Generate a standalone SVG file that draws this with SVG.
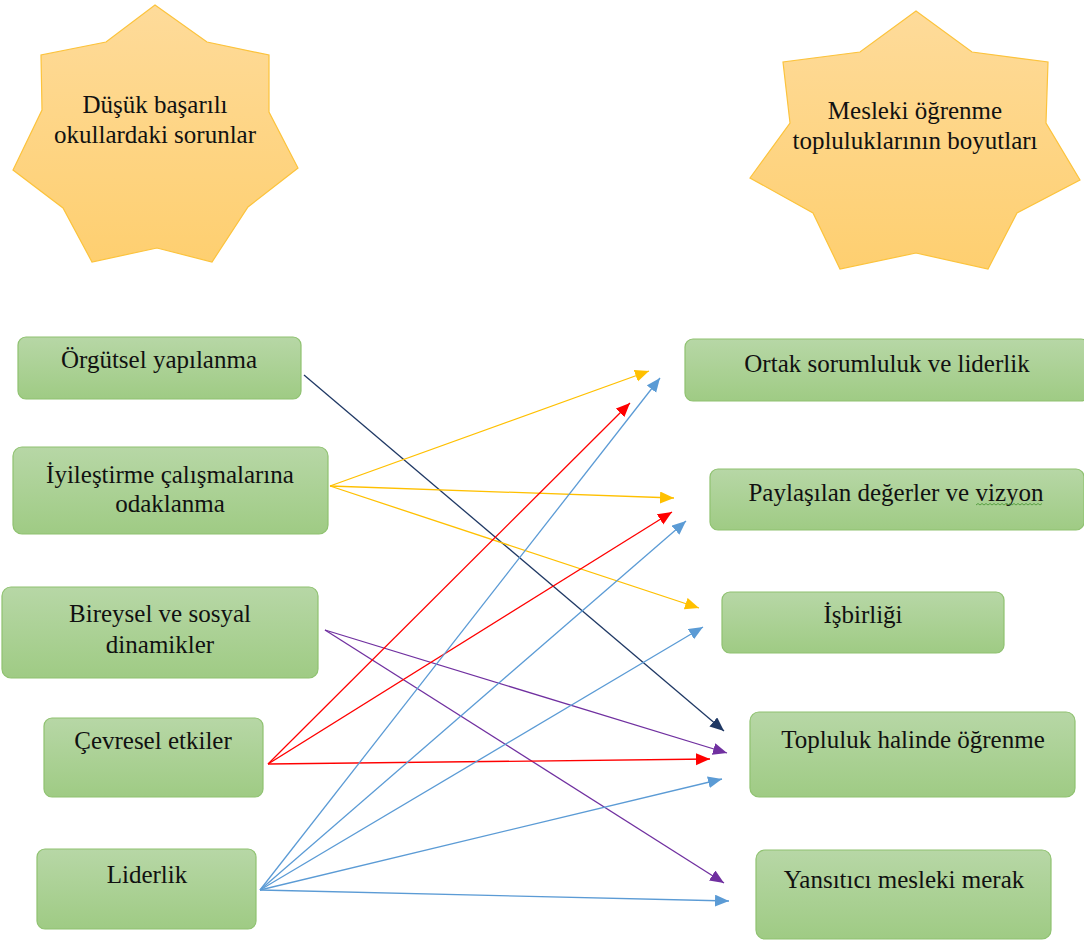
<svg xmlns="http://www.w3.org/2000/svg" width="1084" height="943" viewBox="0 0 1084 943" font-family="'Liberation Serif', 'Times New Roman', serif">
<defs>
<linearGradient id="gStar" x1="0" y1="0" x2="0" y2="1">
<stop offset="0" stop-color="#fedb9a"/>
<stop offset="1" stop-color="#fecf70"/>
</linearGradient>
<linearGradient id="gBox" x1="0" y1="0" x2="0" y2="1">
<stop offset="0" stop-color="#b7d7a6"/>
<stop offset="1" stop-color="#9fcb84"/>
</linearGradient>
<marker id="mNavy" markerUnits="userSpaceOnUse" markerWidth="15" markerHeight="13" refX="14" refY="6" orient="auto"><path d="M0,0 L14,6 L0,12 z" fill="#1f3864"/></marker>
<marker id="mYellow" markerUnits="userSpaceOnUse" markerWidth="15" markerHeight="13" refX="14" refY="6" orient="auto"><path d="M0,0 L14,6 L0,12 z" fill="#ffc000"/></marker>
<marker id="mPurple" markerUnits="userSpaceOnUse" markerWidth="15" markerHeight="13" refX="14" refY="6" orient="auto"><path d="M0,0 L14,6 L0,12 z" fill="#7030a0"/></marker>
<marker id="mRed" markerUnits="userSpaceOnUse" markerWidth="15" markerHeight="13" refX="14" refY="6" orient="auto"><path d="M0,0 L14,6 L0,12 z" fill="#ff0000"/></marker>
<marker id="mBlue" markerUnits="userSpaceOnUse" markerWidth="15" markerHeight="13" refX="14" refY="6" orient="auto"><path d="M0,0 L14,6 L0,12 z" fill="#5b9bd5"/></marker>
</defs>
<style>
.star{fill:url(#gStar);stroke:#fcc33c;stroke-width:1.2}
.box{fill:url(#gBox);stroke:#8fc270;stroke-width:1.2}
.t{font-size:25px;fill:#111;text-anchor:middle}
.c{fill:none;stroke-width:1.3}
.navy{stroke:#1f3864;marker-end:url(#mNavy)}
.yellow{stroke:#ffc000;marker-end:url(#mYellow)}
.purple{stroke:#7030a0;marker-end:url(#mPurple)}
.red{stroke:#ff0000;marker-end:url(#mRed)}
.blue{stroke:#5b9bd5;marker-end:url(#mBlue)}
</style>
<rect width="1084" height="943" fill="#ffffff"/>

<g id="star-left">
<polygon class="star" points="155,5 207,42 269,55 269,112 298,168 248,207 212,262 157,248 92,262 63,208 13,170 42,110 41,55 106,42"/>
<text class="t" font-family="Liberation Serif, serif" x="155" y="113">Düşük başarılı</text>
<text class="t" font-family="Liberation Serif, serif" x="155" y="143">okullardaki sorunlar</text>
</g>

<g id="star-right">
<polygon class="star" points="916,11 972,52 1048,62 1046,123 1080,180 1017,213 988,269 916,253 840,269 813,213 750,178 790,123 783,62 860,52"/>
<text class="t" font-family="Liberation Serif, serif" x="915" y="119">Mesleki öğrenme</text>
<text class="t" font-family="Liberation Serif, serif" x="915" y="149">topluluklarının boyutları</text>
</g>

<g id="node-orgutsel">
<rect class="box" x="18" y="337" width="283" height="62" rx="8"/>
<text class="t" font-family="Liberation Serif, serif" x="159" y="368">Örgütsel yapılanma</text>
</g>
<g id="node-iyilestirme">
<rect class="box" x="13" y="447" width="315" height="87" rx="9"/>
<text class="t" font-family="Liberation Serif, serif" x="170" y="483">İyileştirme çalışmalarına</text>
<text class="t" font-family="Liberation Serif, serif" x="170" y="512">odaklanma</text>
</g>
<g id="node-bireysel">
<rect class="box" x="2" y="587" width="316" height="91" rx="9"/>
<text class="t" font-family="Liberation Serif, serif" x="160" y="622">Bireysel ve sosyal</text>
<text class="t" font-family="Liberation Serif, serif" x="160" y="653">dinamikler</text>
</g>
<g id="node-cevresel">
<rect class="box" x="44" y="718" width="219" height="79" rx="8"/>
<text class="t" font-family="Liberation Serif, serif" x="153" y="749">Çevresel etkiler</text>
</g>
<g id="node-liderlik">
<rect class="box" x="37" y="849" width="219" height="80" rx="8"/>
<text class="t" font-family="Liberation Serif, serif" x="147" y="883">Liderlik</text>
</g>

<g id="node-ortak">
<rect class="box" x="685" y="339" width="404" height="62" rx="8"/>
<text class="t" font-family="Liberation Serif, serif" x="887" y="372">Ortak sorumluluk ve liderlik</text>
</g>
<g id="node-paylasilan">
<rect class="box" x="710" y="469" width="374" height="61" rx="8"/>
<text class="t" font-family="Liberation Serif, serif" x="896" y="501">Paylaşılan değerler ve vizyon</text>
<path d="M976,505 l2,-1.5 l2,1.5 l2,-1.5 l2,1.5 l2,-1.5 l2,1.5 l2,-1.5 l2,1.5 l2,-1.5 l2,1.5 l2,-1.5 l2,1.5 l2,-1.5 l2,1.5 l2,-1.5 l2,1.5 l2,-1.5 l2,1.5 l2,-1.5 l2,1.5 l2,-1.5 l2,1.5 l2,-1.5 l2,1.5 l2,-1.5 l2,1.5 l2,-1.5 l2,1.5 l2,-1.5 l2,1.5 l2,-1.5 l2,1.5 l2,-1.5" fill="none" stroke="#4f9a3a" stroke-width="0.9"/>
</g>
<g id="node-isbirligi">
<rect class="box" x="722" y="592" width="282" height="61" rx="8"/>
<text class="t" font-family="Liberation Serif, serif" x="863" y="623">İşbirliği</text>
</g>
<g id="node-topluluk">
<rect class="box" x="750" y="712" width="325" height="85" rx="9"/>
<text class="t" font-family="Liberation Serif, serif" x="913" y="748">Topluluk halinde öğrenme</text>
</g>
<g id="node-yansitici">
<rect class="box" x="756" y="850" width="295" height="89" rx="9"/>
<text class="t" font-family="Liberation Serif, serif" x="904" y="888">Yansıtıcı mesleki merak</text>
</g>

<g id="connectors">
<line class="c navy" x1="304" y1="375" x2="724" y2="731"/>
<line class="c yellow" x1="330" y1="486" x2="649" y2="371"/>
<line class="c yellow" x1="330" y1="486" x2="674" y2="498"/>
<line class="c yellow" x1="330" y1="486" x2="699" y2="608"/>
<line class="c purple" x1="325" y1="630" x2="727" y2="753"/>
<line class="c purple" x1="325" y1="630" x2="724" y2="883"/>
<line class="c red" x1="268" y1="764" x2="630" y2="403"/>
<line class="c red" x1="268" y1="764" x2="672" y2="512"/>
<line class="c red" x1="268" y1="764" x2="710" y2="759"/>
<line class="c blue" x1="260" y1="890" x2="660" y2="378"/>
<line class="c blue" x1="260" y1="890" x2="686" y2="521"/>
<line class="c blue" x1="260" y1="890" x2="703" y2="627"/>
<line class="c blue" x1="260" y1="890" x2="722" y2="779"/>
<line class="c blue" x1="260" y1="890" x2="729" y2="901"/>
</g>
</svg>
